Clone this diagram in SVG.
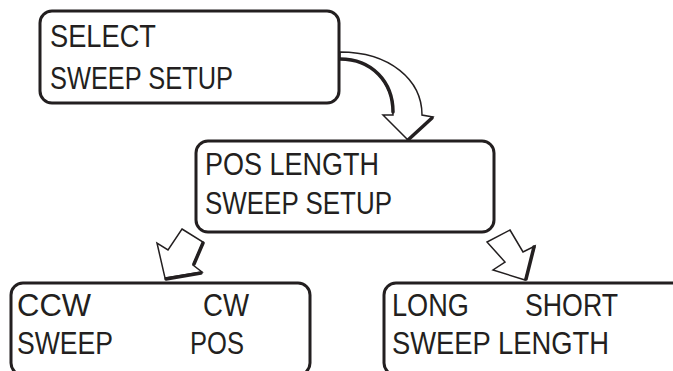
<svg xmlns="http://www.w3.org/2000/svg" width="673" height="371" viewBox="0 0 673 371">
<style>
.box{fill:#fff;stroke:#231f20;stroke-width:3}
.t{font-family:"Liberation Sans",Arial,sans-serif;font-size:32px;fill:#231f20}
.arr{fill:#fff;stroke:#231f20;stroke-width:1.5;stroke-linejoin:miter}
.sh{fill:none;stroke:#231f20;stroke-width:3.5;stroke-linecap:round}
</style>
<rect width="673" height="371" fill="#fff"/>
<g id="connectors">
<g id="arrow1">
<path class="arr" d="M340,52 C390,52 422,80 422,115 L433,117 L408,140 L383,115 L393,115 C393,82 372,59 340,59 Z"/>
<path class="sh" d="M340,59 C372,59 393,82 393,112"/>
<path class="sh" d="M408,140 L432,118"/>
</g>
<g id="arrow2">
<path class="arr" d="M182,229 L203,242 L193,265 L202,272 L165,278 L157,243 L168,250 Z"/>
<path class="sh" d="M203,243 L194,264"/>
<path class="sh" d="M166,279 L201,273"/>
</g>
<g id="arrow3">
<path class="arr" d="M510,230 L523,252 L535,246 L525,280 L493,270 L505,262 L487,242 Z"/>
<path class="sh" d="M534,247 L526,279"/>
</g>
</g>
<g id="node1">
<rect class="box" x="40" y="11" width="299" height="92" rx="12"/>
<text class="t" x="50" y="47" textLength="106" lengthAdjust="spacingAndGlyphs">SELECT</text>
<text class="t" x="50" y="89" textLength="183" lengthAdjust="spacingAndGlyphs">SWEEP SETUP</text>
</g>
<g id="node2">
<rect class="box" x="196" y="141" width="298" height="91" rx="12"/>
<text class="t" x="205" y="175" textLength="174" lengthAdjust="spacingAndGlyphs">POS LENGTH</text>
<text class="t" x="205" y="214" textLength="187" lengthAdjust="spacingAndGlyphs">SWEEP SETUP</text>
</g>
<g id="node3">
<rect class="box" x="11" y="283" width="299" height="92" rx="12"/>
<text class="t" x="17" y="316" textLength="74" lengthAdjust="spacingAndGlyphs">CCW</text>
<text class="t" x="203" y="316" textLength="46" lengthAdjust="spacingAndGlyphs">CW</text>
<text class="t" x="17" y="354" textLength="96" lengthAdjust="spacingAndGlyphs">SWEEP</text>
<text class="t" x="190" y="354" textLength="54" lengthAdjust="spacingAndGlyphs">POS</text>
</g>
<g id="node4">
<rect class="box" x="384" y="283" width="310" height="92" rx="12"/>
<text class="t" x="392" y="316" textLength="77" lengthAdjust="spacingAndGlyphs">LONG</text>
<text class="t" x="525" y="316" textLength="93" lengthAdjust="spacingAndGlyphs">SHORT</text>
<text class="t" x="392" y="354" textLength="217" lengthAdjust="spacingAndGlyphs">SWEEP LENGTH</text>
</g>
</svg>
